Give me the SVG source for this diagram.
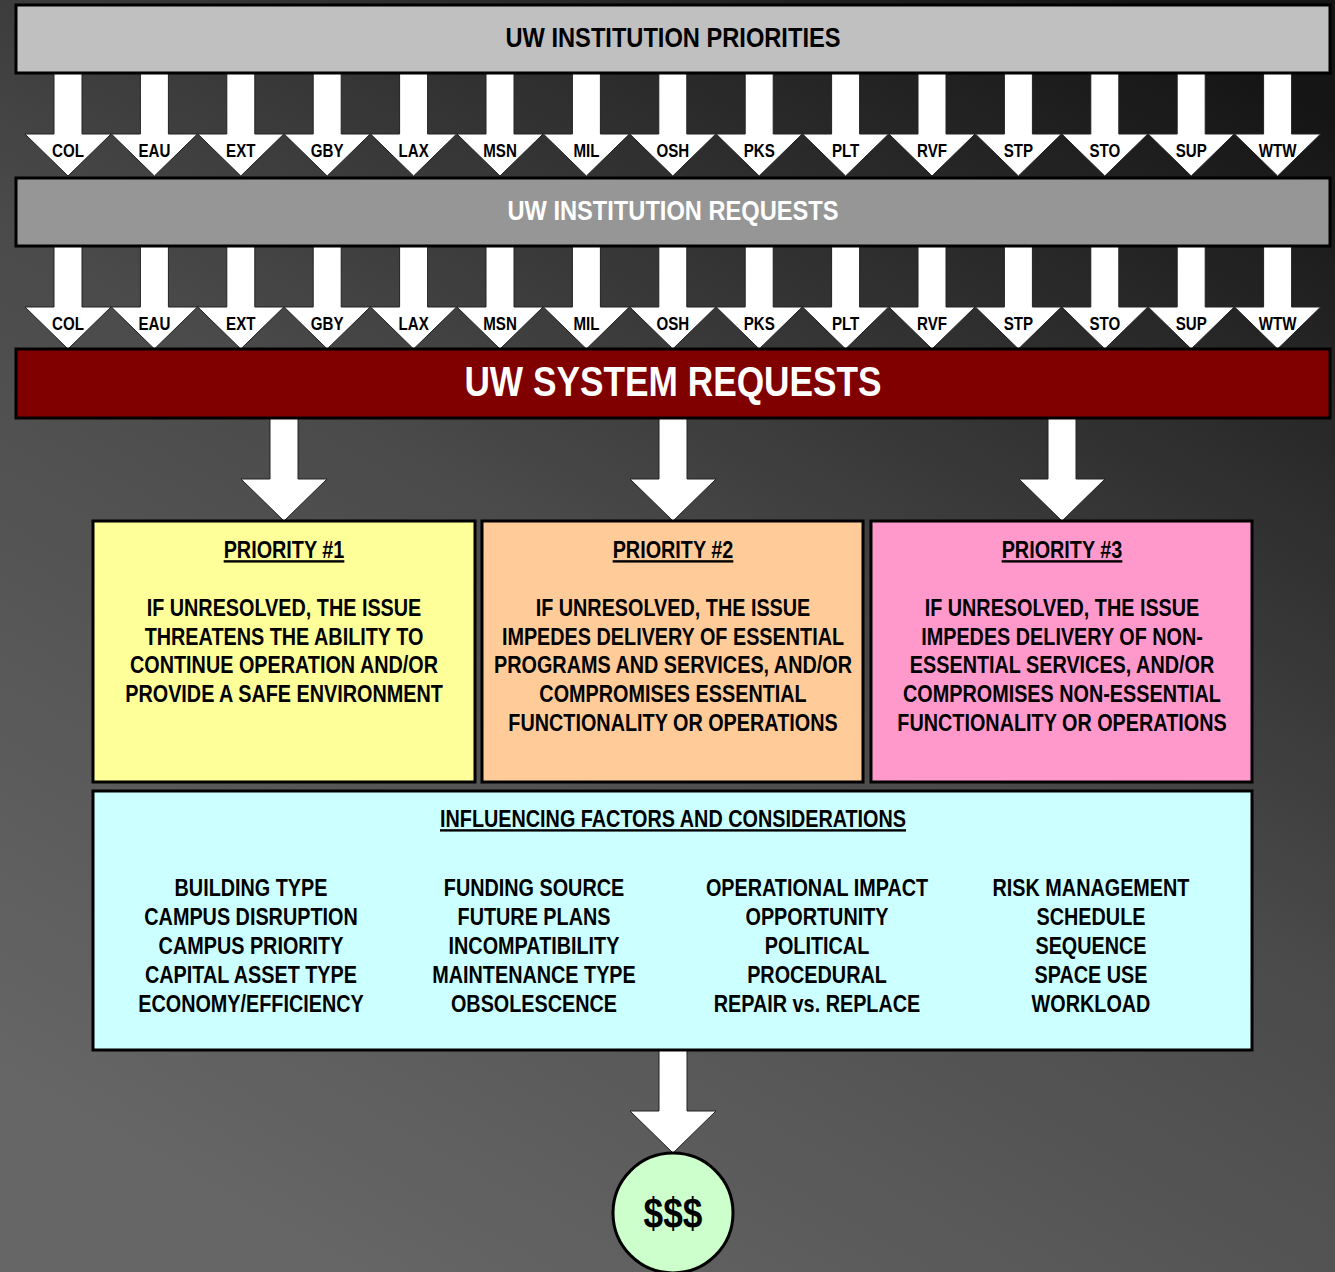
<svg xmlns="http://www.w3.org/2000/svg" xmlns:xlink="http://www.w3.org/1999/xlink" width="1335" height="1272" viewBox="0 0 1335 1272">
<defs>
<linearGradient id="bg" x1="0.85" y1="0" x2="0.25" y2="1">
<stop offset="0" stop-color="#151515"/>
<stop offset="0.5" stop-color="#4a4a4a"/>
<stop offset="1" stop-color="#666666"/>
</linearGradient>
<path id="arr" d="M-14,0 H14 V61 H43 L0,103 L-43,61 H-14 Z" fill="#ffffff" stroke="#222" stroke-width="1"/>
</defs>
<style>
text{font-family:"Liberation Sans",Arial,sans-serif;font-weight:bold;text-anchor:middle}
.box{stroke:#000;stroke-width:3}
.lbl{font-size:18px;fill:#000}
.body{font-size:24px;fill:#000}
.ul{text-decoration:underline}
</style>
<rect x="0" y="0" width="1335" height="1272" fill="url(#bg)"/>

<g id="connectors">
<g id="row1">
<use xlink:href="#arr" x="68" y="73"/><use xlink:href="#arr" x="154.4" y="73"/><use xlink:href="#arr" x="240.8" y="73"/><use xlink:href="#arr" x="327.2" y="73"/><use xlink:href="#arr" x="413.6" y="73"/><use xlink:href="#arr" x="500" y="73"/><use xlink:href="#arr" x="586.4" y="73"/><use xlink:href="#arr" x="672.8" y="73"/><use xlink:href="#arr" x="759.2" y="73"/><use xlink:href="#arr" x="845.6" y="73"/><use xlink:href="#arr" x="932" y="73"/><use xlink:href="#arr" x="1018.4" y="73"/><use xlink:href="#arr" x="1104.8" y="73"/><use xlink:href="#arr" x="1191.2" y="73"/><use xlink:href="#arr" x="1277.6" y="73"/>
<text class="lbl" transform="translate(68,157) scale(0.84,1)">COL</text><text class="lbl" transform="translate(154.4,157) scale(0.84,1)">EAU</text><text class="lbl" transform="translate(240.8,157) scale(0.84,1)">EXT</text><text class="lbl" transform="translate(327.2,157) scale(0.84,1)">GBY</text><text class="lbl" transform="translate(413.6,157) scale(0.84,1)">LAX</text><text class="lbl" transform="translate(500,157) scale(0.84,1)">MSN</text><text class="lbl" transform="translate(586.4,157) scale(0.84,1)">MIL</text><text class="lbl" transform="translate(672.8,157) scale(0.84,1)">OSH</text><text class="lbl" transform="translate(759.2,157) scale(0.84,1)">PKS</text><text class="lbl" transform="translate(845.6,157) scale(0.84,1)">PLT</text><text class="lbl" transform="translate(932,157) scale(0.84,1)">RVF</text><text class="lbl" transform="translate(1018.4,157) scale(0.84,1)">STP</text><text class="lbl" transform="translate(1104.8,157) scale(0.84,1)">STO</text><text class="lbl" transform="translate(1191.2,157) scale(0.84,1)">SUP</text><text class="lbl" transform="translate(1277.6,157) scale(0.84,1)">WTW</text>
</g>
<g id="row2">
<use xlink:href="#arr" x="68" y="246"/><use xlink:href="#arr" x="154.4" y="246"/><use xlink:href="#arr" x="240.8" y="246"/><use xlink:href="#arr" x="327.2" y="246"/><use xlink:href="#arr" x="413.6" y="246"/><use xlink:href="#arr" x="500" y="246"/><use xlink:href="#arr" x="586.4" y="246"/><use xlink:href="#arr" x="672.8" y="246"/><use xlink:href="#arr" x="759.2" y="246"/><use xlink:href="#arr" x="845.6" y="246"/><use xlink:href="#arr" x="932" y="246"/><use xlink:href="#arr" x="1018.4" y="246"/><use xlink:href="#arr" x="1104.8" y="246"/><use xlink:href="#arr" x="1191.2" y="246"/><use xlink:href="#arr" x="1277.6" y="246"/>
<text class="lbl" transform="translate(68,330) scale(0.84,1)">COL</text><text class="lbl" transform="translate(154.4,330) scale(0.84,1)">EAU</text><text class="lbl" transform="translate(240.8,330) scale(0.84,1)">EXT</text><text class="lbl" transform="translate(327.2,330) scale(0.84,1)">GBY</text><text class="lbl" transform="translate(413.6,330) scale(0.84,1)">LAX</text><text class="lbl" transform="translate(500,330) scale(0.84,1)">MSN</text><text class="lbl" transform="translate(586.4,330) scale(0.84,1)">MIL</text><text class="lbl" transform="translate(672.8,330) scale(0.84,1)">OSH</text><text class="lbl" transform="translate(759.2,330) scale(0.84,1)">PKS</text><text class="lbl" transform="translate(845.6,330) scale(0.84,1)">PLT</text><text class="lbl" transform="translate(932,330) scale(0.84,1)">RVF</text><text class="lbl" transform="translate(1018.4,330) scale(0.84,1)">STP</text><text class="lbl" transform="translate(1104.8,330) scale(0.84,1)">STO</text><text class="lbl" transform="translate(1191.2,330) scale(0.84,1)">SUP</text><text class="lbl" transform="translate(1277.6,330) scale(0.84,1)">WTW</text>
</g>
<use xlink:href="#arr" x="284" y="418"/>
<use xlink:href="#arr" x="673" y="418"/>
<use xlink:href="#arr" x="1062" y="418"/>
<use xlink:href="#arr" x="673" y="1050"/>
</g>

<g id="priorities-top">
<rect class="box" x="16" y="5" width="1314" height="68" fill="#c0c0c0"/>
<text transform="translate(673,47) scale(0.845,1)" font-size="28" fill="#000">UW INSTITUTION PRIORITIES</text>
</g>
<g id="requests">
<rect class="box" x="16" y="178" width="1314" height="68" fill="#969696"/>
<text transform="translate(673,220) scale(0.845,1)" font-size="28" fill="#fff">UW INSTITUTION REQUESTS</text>
</g>
<g id="system">
<rect class="box" x="16" y="349" width="1314" height="69" fill="#800000"/>
<text transform="translate(673,396) scale(0.82,1)" font-size="43" fill="#fff">UW SYSTEM REQUESTS</text>
</g>

<g id="priority1">
<rect class="box" x="93" y="521" width="382" height="261" fill="#ffff99"/>
<g transform="translate(284,0) scale(0.825,1)">
<text class="body ul" x="0" y="558">PRIORITY #1</text>
<text class="body" x="0" y="616">IF UNRESOLVED, THE ISSUE</text>
<text class="body" x="0" y="645">THREATENS THE ABILITY TO</text>
<text class="body" x="0" y="673">CONTINUE OPERATION AND/OR</text>
<text class="body" x="0" y="702">PROVIDE A SAFE ENVIRONMENT</text>
</g>
</g>
<g id="priority2">
<rect class="box" x="482" y="521" width="381" height="261" fill="#ffcc99"/>
<g transform="translate(673,0) scale(0.825,1)">
<text class="body ul" x="0" y="558">PRIORITY #2</text>
<text class="body" x="0" y="616">IF UNRESOLVED, THE ISSUE</text>
<text class="body" x="0" y="645">IMPEDES DELIVERY OF ESSENTIAL</text>
<text class="body" x="0" y="673">PROGRAMS AND SERVICES, AND/OR</text>
<text class="body" x="0" y="702">COMPROMISES ESSENTIAL</text>
<text class="body" x="0" y="731">FUNCTIONALITY OR OPERATIONS</text>
</g>
</g>
<g id="priority3">
<rect class="box" x="871" y="521" width="381" height="261" fill="#ff99cc"/>
<g transform="translate(1062,0) scale(0.825,1)">
<text class="body ul" x="0" y="558">PRIORITY #3</text>
<text class="body" x="0" y="616">IF UNRESOLVED, THE ISSUE</text>
<text class="body" x="0" y="645">IMPEDES DELIVERY OF NON-</text>
<text class="body" x="0" y="673">ESSENTIAL SERVICES, AND/OR</text>
<text class="body" x="0" y="702">COMPROMISES NON-ESSENTIAL</text>
<text class="body" x="0" y="731">FUNCTIONALITY OR OPERATIONS</text>
</g>
</g>

<g id="factors">
<rect class="box" x="93" y="791" width="1159" height="259" fill="#ccffff"/>
<g transform="translate(673,0) scale(0.825,1)">
<text class="body ul" x="0" y="827">INFLUENCING FACTORS AND CONSIDERATIONS</text>
</g>
<g transform="translate(251,0) scale(0.825,1)">
<text class="body" x="0" y="896">BUILDING TYPE</text>
<text class="body" x="0" y="925">CAMPUS DISRUPTION</text>
<text class="body" x="0" y="954">CAMPUS PRIORITY</text>
<text class="body" x="0" y="983">CAPITAL ASSET TYPE</text>
<text class="body" x="0" y="1012">ECONOMY/EFFICIENCY</text>
</g>
<g transform="translate(534,0) scale(0.825,1)">
<text class="body" x="0" y="896">FUNDING SOURCE</text>
<text class="body" x="0" y="925">FUTURE PLANS</text>
<text class="body" x="0" y="954">INCOMPATIBILITY</text>
<text class="body" x="0" y="983">MAINTENANCE TYPE</text>
<text class="body" x="0" y="1012">OBSOLESCENCE</text>
</g>
<g transform="translate(817,0) scale(0.825,1)">
<text class="body" x="0" y="896">OPERATIONAL IMPACT</text>
<text class="body" x="0" y="925">OPPORTUNITY</text>
<text class="body" x="0" y="954">POLITICAL</text>
<text class="body" x="0" y="983">PROCEDURAL</text>
<text class="body" x="0" y="1012">REPAIR vs. REPLACE</text>
</g>
<g transform="translate(1091,0) scale(0.825,1)">
<text class="body" x="0" y="896">RISK MANAGEMENT</text>
<text class="body" x="0" y="925">SCHEDULE</text>
<text class="body" x="0" y="954">SEQUENCE</text>
<text class="body" x="0" y="983">SPACE USE</text>
<text class="body" x="0" y="1012">WORKLOAD</text>
</g>
</g>

<g id="money">
<circle cx="673" cy="1213" r="60" fill="#ccffcc" stroke="#000" stroke-width="3"/>
<text transform="translate(673,1228) scale(0.82,1)" font-size="43" fill="#000">$$$</text>
</g>
</svg>
